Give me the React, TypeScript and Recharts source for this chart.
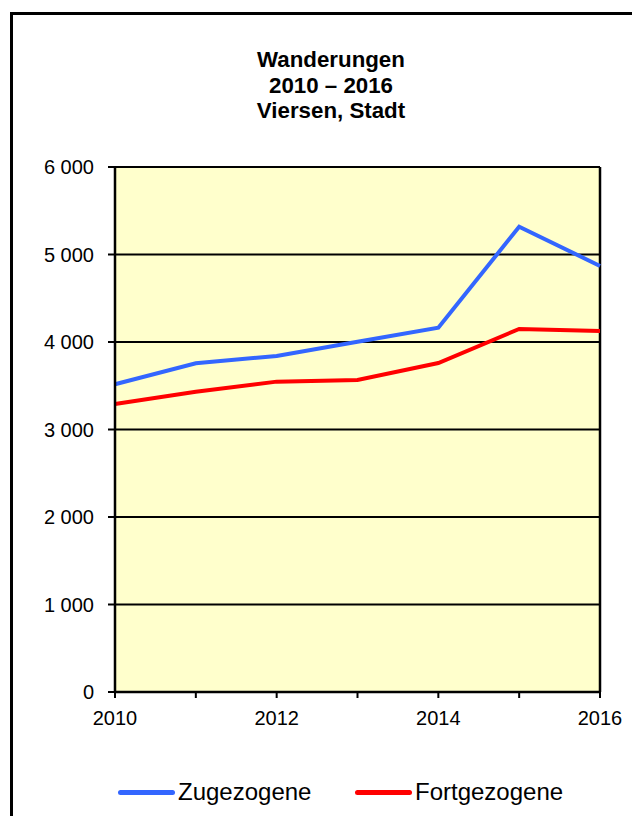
import { CartesianGrid, Line, LineChart, ReferenceLine, XAxis, YAxis } from "recharts";

const years = [2010, 2011, 2012, 2013, 2014, 2015, 2016];
const zugezogene = [3517, 3757, 3840, 4003, 4163, 5318, 4869];
const fortgezogene = [3291, 3431, 3547, 3566, 3760, 4149, 4126];
const yTicks = [0, 1000, 2000, 3000, 4000, 5000, 6000];
const titleLines = ["Wanderungen", "2010 – 2016", "Viersen, Stadt"];

const series = [
  { key: "zugezogene", name: "Zugezogene", color: "#3366FF" },
  { key: "fortgezogene", name: "Fortgezogene", color: "#FF0000" },
];

const data = years.map((year, i) => ({
  year,
  zugezogene: zugezogene[i],
  fortgezogene: fortgezogene[i],
}));

const FONT = '"Liberation Sans", Arial, sans-serif';

// "6 000" style thousands with a plain space
const fmtThousands = (v: number) =>
  v === 0 ? "0" : `${Math.floor(v / 1000)} ${String(v % 1000).padStart(3, "0")}`;

export default function App() {
  return (
    <div
      style={{
        position: "relative",
        width: 632,
        height: 816,
        overflow: "hidden",
        background: "#fff",
        fontFamily: FONT,
      }}
    >
      <style>{"body{margin:0}"}</style>
      {/* outer frame, runs off the right and bottom edges */}
      <div
        style={{
          position: "absolute",
          left: 10,
          top: 12,
          width: 700,
          height: 900,
          border: "3px solid #000",
        }}
      />
      <div
        style={{
          position: "absolute",
          left: 181,
          top: 47.4,
          width: 300,
          textAlign: "center",
          fontSize: 22.3,
          fontWeight: "bold",
          lineHeight: "25.5px",
        }}
      >
        {titleLines.map((t) => (
          <div key={t}>{t}</div>
        ))}
      </div>

      <div style={{ position: "absolute", left: 0, top: 0 }}>
        <LineChart
          width={632}
          height={816}
          data={data}
          margin={{ top: 167, right: 32, left: 0, bottom: 94 }}
        >
          <CartesianGrid
            vertical={false}
            fill="#FFFFCC"
            stroke="#000"
            strokeWidth={2}
            fillOpacity={1}
          />
          <XAxis
            dataKey="year"
            type="number"
            domain={[2010, 2016]}
            ticks={years}
            interval={0}
            height={30}
            tickFormatter={(v: number) => (v % 2 === 0 ? String(v) : "")}
            tick={{ fill: "#000", fontSize: 20, fontFamily: FONT }}
            tickSize={6}
            tickMargin={13}
            axisLine={{ stroke: "#000", strokeWidth: 2.5 }}
            tickLine={{ stroke: "#000", strokeWidth: 2 }}
          />
          <YAxis
            width={115}
            domain={[0, 6000]}
            ticks={yTicks}
            interval={0}
            tickFormatter={fmtThousands}
            tick={{ fill: "#000", fontSize: 20, fontFamily: FONT }}
            tickSize={7}
            tickMargin={14}
            axisLine={{ stroke: "#000", strokeWidth: 2.5 }}
            tickLine={{ stroke: "#000", strokeWidth: 2 }}
          />
          <ReferenceLine x={2016} stroke="#000" strokeWidth={2.5} />
          {series.map((s) => (
            <Line
              key={s.key}
              dataKey={s.key}
              name={s.name}
              type="linear"
              stroke={s.color}
              strokeWidth={4}
              dot={false}
              isAnimationActive={false}
            />
          ))}
        </LineChart>
      </div>

      {/* legend */}
      {series.map((s, i) => (
        <div
          key={s.key}
          style={{
            position: "absolute",
            left: i === 0 ? 118 : 355,
            top: 778,
            height: 28,
            display: "flex",
            alignItems: "center",
            fontSize: 24,
          }}
        >
          <span
            style={{
              display: "inline-block",
              width: 57,
              height: 5,
              borderRadius: 3,
              background: s.color,
              marginRight: 3,
            }}
          />
          <span>{s.name}</span>
        </div>
      ))}
    </div>
  );
}
